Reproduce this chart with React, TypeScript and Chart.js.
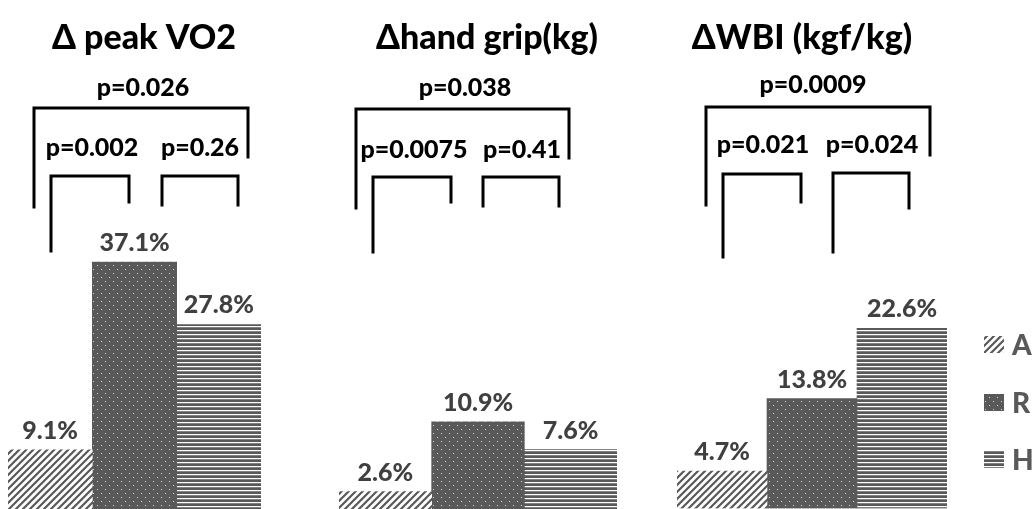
import React, { useEffect, useRef } from "react";
import { Chart, registerables } from "chart.js";

Chart.register(...registerables);

// ---- data ----
const groups = ["A", "R", "H"];
const panelTitles = ["Δ peak VO2", "Δhand grip(kg)", "ΔWBI (kgf/kg)"];
const vo2Values = [9.1, 37.1, 27.8];
const gripValues = [2.6, 10.9, 7.6];
const wbiValues = [4.7, 13.8, 22.6];
const vo2PValues = ["p=0.026", "p=0.002", "p=0.26"];
const gripPValues = ["p=0.038", "p=0.0075", "p=0.41"];
const wbiPValues = ["p=0.0009", "p=0.021", "p=0.024"];

// ---- layout (page px) ----
const W = 1035;
const H = 520;
const FONT = "Lato, 'Open Sans', sans-serif";
const GRAY = "#595959";

type Bracket = { x1: number; x2: number; top: number; lb: number; rb: number; tx: number; ty: number };
type Panel = {
  title: string; titleX: number; values: number[]; pvals: string[];
  left: number; right: number; bottom: number; top: number; yMax: number;
  brackets: Bracket[]; legend?: boolean;
};

const panels: Panel[] = [
  {
    title: panelTitles[0], titleX: 144, values: vo2Values, pvals: vo2PValues,
    left: 8, right: 261, bottom: 511, top: 242.6, yMax: 40,
    brackets: [
      { x1: 34, x2: 248, top: 108, lb: 207, rb: 157, tx: 143, ty: 88 },
      { x1: 51, x2: 129, top: 176, lb: 251, rb: 202, tx: 92, ty: 148 },
      { x1: 162, x2: 238, top: 176, lb: 205, rb: 205, tx: 200, ty: 148 },
    ],
  },
  {
    title: panelTitles[1], titleX: 487, values: gripValues, pvals: gripPValues,
    left: 339, right: 617, bottom: 513.5, top: 412.7, yMax: 12,
    brackets: [
      { x1: 356, x2: 569, top: 109, lb: 208, rb: 158, tx: 465, ty: 88 },
      { x1: 373, x2: 451, top: 177, lb: 252, rb: 202, tx: 414, ty: 150 },
      { x1: 483, x2: 559, top: 177, lb: 206, rb: 206, tx: 522, ty: 150 },
    ],
  },
  {
    title: panelTitles[2], titleX: 802, values: wbiValues, pvals: wbiPValues,
    left: 677, right: 947, bottom: 508.5, top: 309.3, yMax: 25,
    brackets: [
      { x1: 706, x2: 930, top: 107, lb: 205, rb: 155, tx: 813, ty: 85 },
      { x1: 723, x2: 801, top: 174, lb: 257, rb: 202, tx: 763, ty: 145 },
      { x1: 833, x2: 909, top: 173, lb: 252, rb: 208, tx: 872, ty: 145 },
    ],
    legend: true,
  },
];

function makePatterns(): CanvasPattern[] {
  const mk = (w: number, h: number, draw: (c: CanvasRenderingContext2D) => void) => {
    const cv = document.createElement("canvas");
    cv.width = w; cv.height = h;
    const c = cv.getContext("2d")!;
    draw(c);
    return c.createPattern(cv, "repeat")!;
  };
  const diag = mk(7, 7, (c) => {
    c.fillStyle = "#ffffff"; c.fillRect(0, 0, 7, 7);
    c.strokeStyle = GRAY; c.lineWidth = 2.2;
    c.beginPath();
    c.moveTo(-1, 8); c.lineTo(8, -1);
    c.moveTo(-4, 4); c.lineTo(4, -4);
    c.moveTo(3, 11); c.lineTo(11, 3);
    c.stroke();
  });
  const dots = mk(8, 8, (c) => {
    c.fillStyle = GRAY; c.fillRect(0, 0, 8, 8);
    c.fillStyle = "#d9d9d9";
    c.fillRect(1, 1, 1, 1);
    c.fillRect(5, 5, 1, 1);
  });
  const horiz = mk(4, 4, (c) => {
    c.fillStyle = "#ffffff"; c.fillRect(0, 0, 4, 4);
    c.fillStyle = GRAY; c.fillRect(0, 0, 4, 2);
    c.fillStyle = "#7f7f7f"; c.fillRect(0, 3, 4, 1);
  });
  return [diag, dots, horiz];
}

function PanelChart({ panel }: { panel: Panel }) {
  const ref = useRef<HTMLCanvasElement | null>(null);
  useEffect(() => {
    const canvas = ref.current!;
    const patterns = makePatterns();
    const overlay = {
      id: "overlay",
      afterDatasetsDraw(chart: any) {
        const ctx: CanvasRenderingContext2D = chart.ctx;
        ctx.save();
        // value labels
        ctx.fillStyle = "#404040";
        ctx.font = `900 25px ${FONT}`;
        ctx.textAlign = "center";
        ctx.textBaseline = "alphabetic";
        chart.data.datasets.forEach((ds: any, i: number) => {
          const meta = chart.getDatasetMeta(i);
          meta.data.forEach((el: any, j: number) => {
            const v = ds.data[j];
            ctx.fillText(`${v.toFixed(1)}%`, el.x, el.y - 11);
          });
        });
        // title
        ctx.fillStyle = "#000000";
        ctx.font = `900 34px ${FONT}`;
        ctx.textBaseline = "middle";
        ctx.fillText(panel.title, panel.titleX, 38);
        // brackets
        ctx.strokeStyle = "#000000";
        ctx.lineWidth = 3;
        ctx.lineCap = "square";
        ctx.lineJoin = "miter";
        ctx.font = `900 25px ${FONT}`;
        panel.brackets.forEach((b, k) => {
          ctx.beginPath();
          ctx.moveTo(b.x1, b.lb);
          ctx.lineTo(b.x1, b.top);
          ctx.lineTo(b.x2, b.top);
          ctx.lineTo(b.x2, b.rb);
          ctx.stroke();
          ctx.fillText(panel.pvals[k], b.tx, b.ty);
        });
        // legend
        if (panel.legend) {
          const ys = [345, 403, 460];
          ctx.font = `900 28px ${FONT}`;
          ctx.textAlign = "left";
          chart.data.datasets.forEach((ds: any, i: number) => {
            ctx.fillStyle = ds.backgroundColor;
            ctx.fillRect(984, ys[i] - 9, 20, 17);
            ctx.fillStyle = GRAY;
            ctx.fillText(ds.label, 1012, ys[i] + 1);
          });
        }
        ctx.restore();
      },
    };
    const chart = new Chart(canvas, {
      type: "bar",
      data: {
        labels: [panel.title],
        datasets: groups.map((g, i) => ({
          label: g,
          data: [panel.values[i]],
          backgroundColor: patterns[i] as any,
          borderWidth: 0,
          categoryPercentage: 1,
          barPercentage: 1,
        })),
      },
      options: {
        responsive: false,
        animation: false,
        layout: {
          padding: {
            left: panel.left,
            right: W - panel.right,
            top: panel.top,
            bottom: H - panel.bottom,
          },
        },
        plugins: { legend: { display: false }, tooltip: { enabled: false } },
        scales: {
          x: { display: false },
          y: { display: false, min: 0, max: panel.yMax },
        },
      },
      plugins: [overlay],
    });
    return () => chart.destroy();
  }, [panel]);
  return (
    <canvas
      ref={ref}
      width={W}
      height={H}
      style={{ position: "absolute", left: 0, top: 0, width: W, height: H }}
    />
  );
}

export default function App() {
  return (
    <div
      style={{
        position: "absolute", left: 0, top: 0, width: W, height: 509,
        overflow: "hidden", background: "#ffffff",
      }}
    >
      {panels.map((p, i) => (
        <PanelChart key={i} panel={p} />
      ))}
    </div>
  );
}
